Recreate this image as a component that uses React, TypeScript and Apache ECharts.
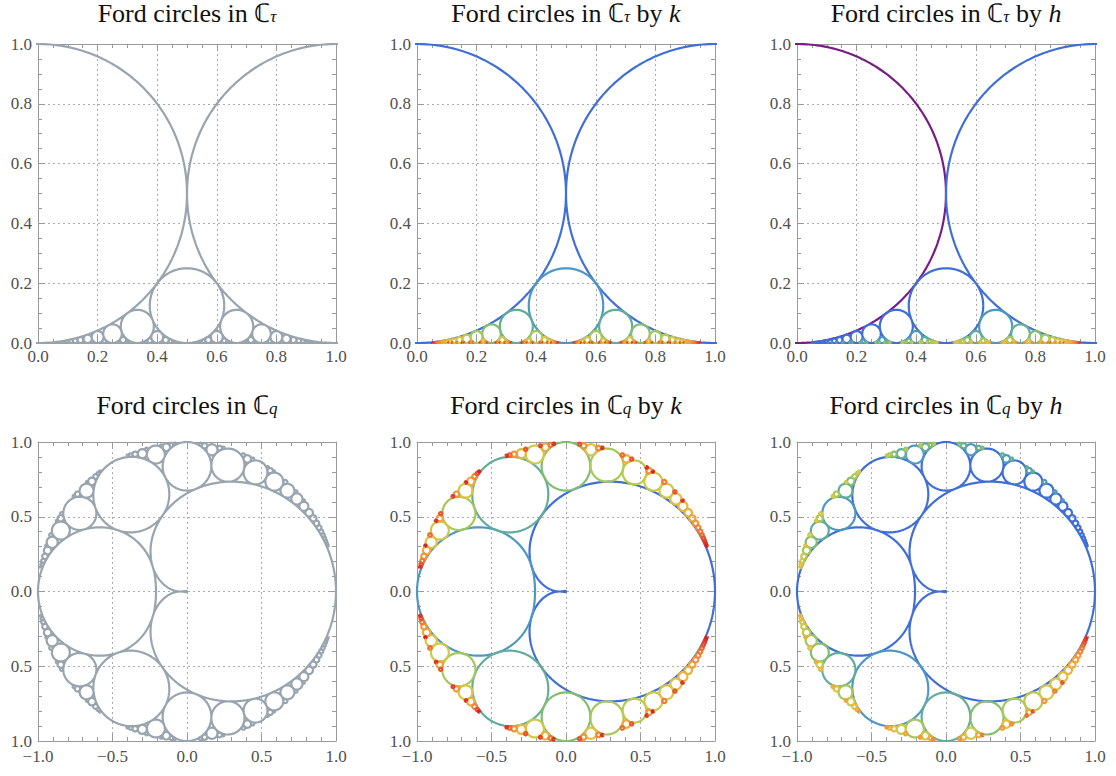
import React, { useEffect, useRef } from "react";
import * as echarts from "echarts";

// ---- data -------------------------------------------------------------
const DENOMINATORS = [1, 2, 3, 4, 5, 6, 7, 8, 9, 10, 11, 12, 13, 14, 15, 16, 17, 18, 19, 20];
// Rainbow palette stops (purple -> blue -> teal -> green -> yellow -> orange -> red)
const RAINBOW = [
  "#781c86", "#4041bf", "#3f6fd6", "#4c97c6", "#62ad9a", "#80be70",
  "#a6c857", "#cbca47", "#e6bf3f", "#f2a139", "#f07131", "#da2122",
];
// palette position used for the values 1..20 of k (or h)
const COLOR_POS = [2, 3, 4, 5, 6, 6.6, 7.1, 7.5, 7.9, 8.3, 8.6, 8.9, 9.2, 9.5, 9.8, 10.1, 10.4, 10.6, 10.8, 11];
const GREY = "#98a4ae";
const TAU_RANGE = [0, 1];
const TAU_TICK = 0.2;
const TAU_MINOR = 4;
const Q_RANGE = [-1, 1];
const Q_TICK = 0.5;
const Q_MINOR = 5;
const PLANES = ["tau", "tau", "tau", "q", "q", "q"];
const COLORINGS = ["grey", "k", "h", "grey", "k", "h"];
const TITLE_SUBS = ["τ", "τ", "τ", "q", "q", "q"];
const TITLE_BY = ["", "k", "h", "", "k", "h"];

// ---- layout -----------------------------------------------------------
const COL_LEFT = [38, 417, 797];
const ROW_TOP = [44, 442];
const PLOT_W = 298;
const PLOT_H = 299;
const TITLE_Y = [0, 392];
const SERIF = "Liberation Serif";

function gcd(a: number, b: number): number {
  while (b) {
    const t = a % b;
    a = b;
    b = t;
  }
  return a;
}

function fractions(includeZero: boolean) {
  const out: { h: number; k: number }[] = [];
  for (const k of DENOMINATORS) {
    for (let h = includeZero ? 0 : 1; h <= k; h++) {
      if (gcd(h, k) === 1) out.push({ h, k });
    }
  }
  return out;
}

function circlePoints(h: number, k: number, plane: string): (number | string)[][] {
  const r = 1 / (2 * k * k);
  const cx = h / k;
  const cy = r;
  const n = plane === "tau" ? Math.max(32, Math.ceil(700 * r)) : Math.max(48, Math.ceil(3000 * r));
  const pts: (number | string)[][] = [];
  for (let i = 0; i <= n; i++) {
    const t = (2 * Math.PI * i) / n;
    const x = cx + r * Math.cos(t);
    const y = cy + r * Math.sin(t);
    if (plane === "tau") pts.push([x, y]);
    else {
      const m = Math.exp(-2 * Math.PI * y);
      pts.push([m * Math.cos(2 * Math.PI * x), m * Math.sin(2 * Math.PI * x)]);
    }
  }
  pts.push(["-", "-"]);
  return pts;
}

function hexToRgb(h: string) {
  return [parseInt(h.slice(1, 3), 16), parseInt(h.slice(3, 5), 16), parseInt(h.slice(5, 7), 16)];
}

function paletteAt(pos: number) {
  const p = Math.max(0, Math.min(RAINBOW.length - 1, pos));
  const i = Math.floor(p);
  const f = p - i;
  const a = hexToRgb(RAINBOW[i]);
  const b = hexToRgb(RAINBOW[Math.min(i + 1, RAINBOW.length - 1)]);
  const c = a.map((v, j) => Math.round(v + (b[j] - v) * f));
  return "rgb(" + c.join(",") + ")";
}

function colorFor(coloring: string, key: number) {
  if (coloring === "grey") return GREY;
  if (key === 0) return RAINBOW[0];
  return paletteAt(COLOR_POS[Math.min(key, COLOR_POS.length) - 1]);
}

function fmtTau(v: number) {
  return v.toFixed(1);
}
function fmtQx(v: number) {
  return (v < -1e-9 ? "−" : "") + Math.abs(v).toFixed(1);
}
function fmtQy(v: number) {
  return Math.abs(v).toFixed(1);
}

function makeAxes(p: number, dim: "x" | "y") {
  const plane = PLANES[p];
  const range = plane === "tau" ? TAU_RANGE : Q_RANGE;
  const interval = plane === "tau" ? TAU_TICK : Q_TICK;
  const minor = plane === "tau" ? TAU_MINOR : Q_MINOR;
  const fmt = plane === "tau" ? fmtTau : dim === "x" ? fmtQx : fmtQy;
  const common = {
    type: "value",
    gridIndex: p,
    min: range[0],
    max: range[1],
    interval,
    axisLine: { show: true, onZero: false, lineStyle: { color: "#9a9a9a", width: 1 } },
    axisTick: { show: true, inside: true, length: 7, lineStyle: { color: "#9a9a9a" } },
    minorTick: { show: true, splitNumber: minor, length: 4, lineStyle: { color: "#9a9a9a" } },
  };
  const main = {
    ...common,
    position: dim === "x" ? "bottom" : "left",
    axisLabel: {
      show: true,
      margin: dim === "x" ? (plane === "q" ? 7 : 5) : 6,
      color: "#505050",
      fontFamily: SERIF,
      fontSize: 17,
      formatter: fmt,
    },
    splitLine: {
      show: true,
      showMinLine: false,
      showMaxLine: false,
      lineStyle: { color: "#ababab", type: [2, 3], width: 1 },
    },
  };
  const mirror = {
    ...common,
    position: dim === "x" ? "top" : "right",
    axisLabel: { show: false },
    splitLine: { show: false },
  };
  return [main, mirror];
}

function buildOption() {
  const grid: any[] = [];
  const xAxis: any[] = [];
  const yAxis: any[] = [];
  const series: any[] = [];
  const graphic: any[] = [];

  for (let p = 0; p < 6; p++) {
    const row = Math.floor(p / 3);
    const col = p % 3;
    grid.push({ left: COL_LEFT[col], top: ROW_TOP[row], width: PLOT_W, height: PLOT_H, containLabel: false });
    xAxis.push(...makeAxes(p, "x"));
    yAxis.push(...makeAxes(p, "y"));

    const plane = PLANES[p];
    const coloring = COLORINGS[p];
    const groups = new Map<number, (number | string)[][]>();
    for (const f of fractions(plane === "tau")) {
      const key = coloring === "grey" ? 0 : coloring === "k" ? f.k : f.h;
      if (!groups.has(key)) groups.set(key, []);
      const arr = groups.get(key)!;
      for (const pt of circlePoints(f.h, f.k, plane)) arr.push(pt);
    }
    const keys = Array.from(groups.keys()).sort((a, b) => a - b);
    for (const key of keys) {
      const color = colorFor(coloring, key);
      series.push({
        type: "line",
        xAxisIndex: 2 * p,
        yAxisIndex: 2 * p,
        data: groups.get(key),
        showSymbol: false,
        symbol: "none",
        connectNulls: false,
        clip: true,
        silent: true,
        z: 3,
        lineStyle: { color, width: 2.2 },
        itemStyle: { color },
        emphasis: { disabled: true },
      });
    }

    const by = TITLE_BY[p];
    const text = "{a|Ford circles in ℂ}{s|" + TITLE_SUBS[p] + "}" + (by ? "{a| by }{i|" + by + "}" : "");
    graphic.push({
      type: "text",
      x: COL_LEFT[col] + PLOT_W / 2,
      y: TITLE_Y[row],
      silent: true,
      style: {
        text,
        align: "center",
        verticalAlign: "top",
        fill: "#111",
        fontFamily: SERIF,
        rich: {
          a: { fontFamily: SERIF, fontSize: 26, lineHeight: 25, verticalAlign: "top", fill: "#111" },
          i: { fontFamily: SERIF, fontSize: 26, fontStyle: "italic", lineHeight: 25, verticalAlign: "top", fill: "#111" },
          s: { fontFamily: SERIF, fontSize: 17, fontStyle: "italic", lineHeight: 11, verticalAlign: "bottom", fill: "#111" },
        },
      },
    });
  }

  return {
    animation: false,
    backgroundColor: "#ffffff",
    textStyle: { fontFamily: SERIF },
    tooltip: { show: false },
    grid,
    xAxis,
    yAxis,
    series,
    graphic,
  };
}

export default function App() {
  const ref = useRef<HTMLDivElement>(null);
  useEffect(() => {
    if (!ref.current) return;
    const chart = echarts.init(ref.current, null, { renderer: "svg" });
    chart.setOption(buildOption() as any);
    return () => chart.dispose();
  }, []);
  return (
    <div
      ref={ref}
      style={{ position: "absolute", left: 0, top: 0, width: 1116, height: 776, background: "#fff" }}
    />
  );
}
